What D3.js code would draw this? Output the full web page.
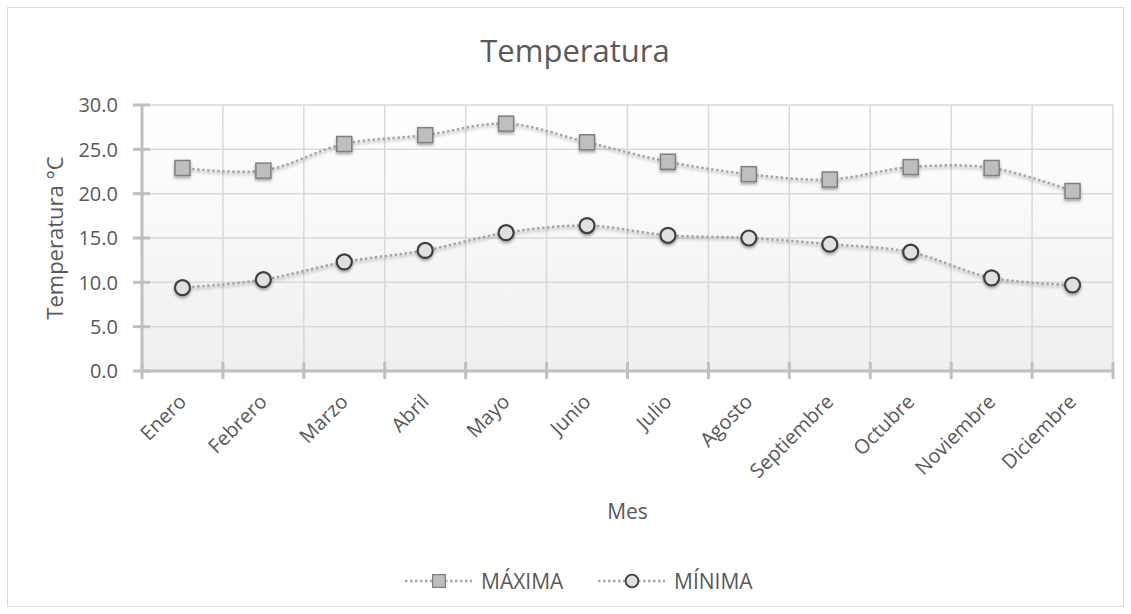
<!DOCTYPE html>
<html>
<head>
<meta charset="utf-8">
<script src="https://cdn.jsdelivr.net/npm/d3@7"></script>
<style>
  body { margin: 0; background: #fff; }
  text { font-family: "Open Sans", "Noto Sans", sans-serif; fill: #595959; }
</style>
</head>
<body>
<script>
// data
const meses = ["Enero", "Febrero", "Marzo", "Abril", "Mayo", "Junio", "Julio",
  "Agosto", "Septiembre", "Octubre", "Noviembre", "Diciembre"];
const maxima = [22.9, 22.6, 25.6, 26.6, 27.9, 25.8, 23.6, 22.2, 21.6, 23.0, 22.9, 20.3];
const minima = [9.4, 10.3, 12.3, 13.6, 15.6, 16.4, 15.3, 15.0, 14.3, 13.4, 10.5, 9.7];
const yTicks = [0, 5, 10, 15, 20, 25, 30];

const W = 1131, H = 614;
const plot = { left: 142, right: 1113, top: 105, bottom: 371 };

const svg = d3.select("body").append("svg")
  .attr("width", W)
  .attr("height", H);

const defs = svg.append("defs");
const grad = defs.append("linearGradient")
  .attr("id", "bg").attr("x1", 0).attr("y1", 0).attr("x2", 0).attr("y2", 1);
grad.append("stop").attr("offset", "0%").attr("stop-color", "#ffffff");
grad.append("stop").attr("offset", "100%").attr("stop-color", "#efefef");

const shadow = defs.append("filter").attr("id", "shadow")
  .attr("x", "-50%").attr("y", "-50%").attr("width", "200%").attr("height", "200%");
shadow.append("feDropShadow")
  .attr("dx", 0).attr("dy", 2).attr("stdDeviation", 1.5)
  .attr("flood-color", "#000").attr("flood-opacity", 0.35);

// outer chart border
svg.append("rect")
  .attr("x", 7.5).attr("y", 7.5)
  .attr("width", W - 15).attr("height", H - 15)
  .attr("fill", "#fff").attr("stroke", "#d9d9d9");

const x = d3.scaleBand().domain(meses).range([plot.left, plot.right]);
const y = d3.scaleLinear().domain([0, 30]).range([plot.bottom, plot.top]);

// plot background
svg.append("rect")
  .attr("x", plot.left).attr("y", plot.top)
  .attr("width", plot.right - plot.left).attr("height", plot.bottom - plot.top)
  .attr("fill", "url(#bg)");

// gridlines
svg.append("g").selectAll("line").data(yTicks.slice(1)).join("line")
  .attr("x1", plot.left).attr("x2", plot.right)
  .attr("y1", d => y(d)).attr("y2", d => y(d))
  .attr("stroke", "#d9d9d9").attr("stroke-width", 1.5);

const bounds = meses.map(m => x(m)).concat([plot.right]);
svg.append("g").selectAll("line").data(bounds.slice(1)).join("line")
  .attr("x1", d => d).attr("x2", d => d)
  .attr("y1", plot.top).attr("y2", plot.bottom)
  .attr("stroke", "#d9d9d9").attr("stroke-width", 1.5);

// y axis
const yAxis = svg.append("g");
yAxis.append("line")
  .attr("x1", plot.left).attr("x2", plot.left)
  .attr("y1", plot.top).attr("y2", plot.bottom)
  .attr("stroke", "#bfbfbf").attr("stroke-width", 3);
yAxis.selectAll(".tk").data(yTicks).join("line")
  .attr("x1", plot.left - 9).attr("x2", plot.left + 8)
  .attr("y1", d => y(d)).attr("y2", d => y(d))
  .attr("stroke", "#bfbfbf").attr("stroke-width", 3);
yAxis.selectAll("text").data(yTicks).join("text")
  .attr("x", plot.left - 24).attr("y", d => y(d))
  .attr("dy", "0.36em")
  .attr("text-anchor", "end")
  .style("font-size", "20px")
  .text(d => d.toFixed(1));

// x axis
const xAxis = svg.append("g");
xAxis.append("line")
  .attr("x1", plot.left).attr("x2", plot.right)
  .attr("y1", plot.bottom).attr("y2", plot.bottom)
  .attr("stroke", "#bfbfbf").attr("stroke-width", 3);
xAxis.selectAll(".tk").data(bounds).join("line")
  .attr("x1", d => d).attr("x2", d => d)
  .attr("y1", plot.bottom - 9).attr("y2", plot.bottom + 8)
  .attr("stroke", "#bfbfbf").attr("stroke-width", 3);
xAxis.selectAll("text").data(meses).join("text")
  .attr("transform", d => `translate(${x(d) + x.bandwidth() / 2},${plot.bottom + 27}) rotate(-45)`)
  .attr("text-anchor", "end")
  .attr("dy", "0.35em")
  .style("font-size", "20px")
  .text(d => d);

// titles
svg.append("text")
  .attr("x", 575).attr("y", 62)
  .attr("text-anchor", "middle")
  .style("font-size", "31px")
  .text("Temperatura");

svg.append("text")
  .attr("transform", `translate(63,${(plot.top + plot.bottom) / 2}) rotate(-90)`)
  .attr("text-anchor", "middle")
  .style("font-size", "22px")
  .text("Temperatura °C");

svg.append("text")
  .attr("x", (plot.left + plot.right) / 2).attr("y", 519)
  .attr("text-anchor", "middle")
  .style("font-size", "21px")
  .text("Mes");

// series
const line = d3.line()
  .x((d, i) => x(meses[i]) + x.bandwidth() / 2)
  .y(d => y(d))
  .curve(d3.curveCatmullRom.alpha(0.5));

const series = [
  { name: "MÁXIMA", values: maxima, shape: "square" },
  { name: "MÍNIMA", values: minima, shape: "circle" }
];

function drawMarker(g, shape) {
  if (shape === "square") {
    g.append("rect")
      .attr("x", -7.5).attr("y", -7.5).attr("width", 15).attr("height", 15)
      .attr("fill", "#bfbfbf").attr("stroke", "#808080").attr("stroke-width", 1.5);
  } else {
    g.append("circle")
      .attr("r", 7.5)
      .attr("fill", "#e0e0e0").attr("stroke", "#404040").attr("stroke-width", 2.2);
  }
}

series.forEach(s => {
  svg.append("path")
    .attr("d", line(s.values))
    .attr("fill", "none")
    .attr("stroke", "#a6a6a6")
    .attr("stroke-width", 2.5)
    .attr("stroke-dasharray", "2.5,2.5")
    .attr("filter", "url(#shadow)");
  svg.append("g").selectAll("g").data(s.values).join("g")
    .attr("transform", (d, i) => `translate(${x(meses[i]) + x.bandwidth() / 2},${y(d)})`)
    .attr("filter", "url(#shadow)")
    .each(function () { drawMarker(d3.select(this), s.shape); });
});

// legend
const legendItems = [
  { name: "MÁXIMA", shape: "square", x: 405 },
  { name: "MÍNIMA", shape: "circle", x: 598 }
];
const lg = svg.append("g").attr("transform", "translate(0,581)");
legendItems.forEach(it => {
  const g = lg.append("g").attr("transform", `translate(${it.x},0)`);
  g.append("line")
    .attr("x1", 0).attr("x2", 67)
    .attr("stroke", "#a6a6a6").attr("stroke-width", 2.5)
    .attr("stroke-dasharray", "2.5,2.5");
  const m = g.append("g").attr("transform", "translate(34,0) scale(0.85)");
  drawMarker(m, it.shape);
  g.append("text")
    .attr("x", 76).attr("dy", "0.36em")
    .style("font-size", "21px")
    .text(it.name);
});
</script>
</body>
</html>
